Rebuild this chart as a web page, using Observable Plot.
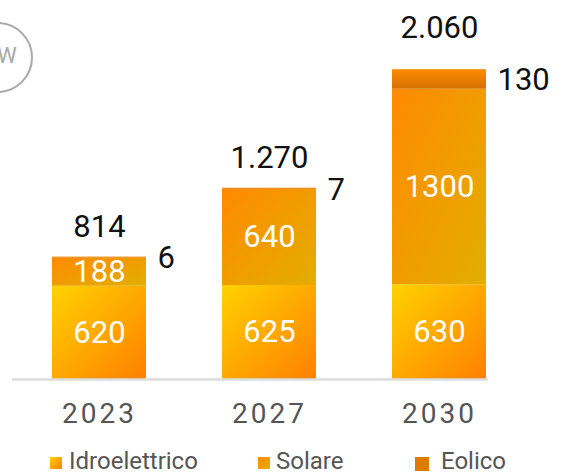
<!DOCTYPE html>
<html>
<head>
<meta charset="utf-8">
<script src="https://cdn.jsdelivr.net/npm/d3@7"></script>
<script src="https://cdn.jsdelivr.net/npm/@observablehq/plot@0.6"></script>
<style>
  html, body { margin: 0; padding: 0; background: #fff; }
  body { position: relative; width: 562px; height: 475px; overflow: hidden; font-family: Roboto, sans-serif; }
  .yr text { letter-spacing: 3px; }
  #badge { position: absolute; left: -38px; top: 22px; width: 67px; height: 63px; padding-bottom: 4px; border: 2px solid #a9a9a9; border-radius: 50%;
           color: #a9a9a9; font-size: 22px; display: flex; align-items: center; justify-content: center; line-height: 1; box-sizing: content-box; }
  .leg { position: absolute; color: #555; font-size: 24px; line-height: 20px; white-space: nowrap; }
  .sw { position: absolute; }
</style>
</head>
<body>
<div id="badge">MW</div>
<div id="chart"></div>
<script>
// ---- data ----
const years = ["2023", "2027", "2030"];
const series = ["Idroelettrico", "Solare", "Eolico"];
const idroelettrico = [620, 625, 630];
const solare = [188, 640, 1300];
const eolico = [6, 7, 130];
const totals = [814, 1270, 2060];

// ---- build table ----
const valuesBySeries = [idroelettrico, solare, eolico];
const rows = [];
years.forEach((year, i) => {
  series.forEach((s, j) => rows.push({year, series: s, value: valuesBySeries[j][i]}));
});
const totalRows = years.map((year, i) => ({year, total: totals[i]}));
const fmt = d3.formatLocale({decimal: ",", thousands: ".", grouping: [3], currency: ["€", ""]}).format(",d");

// ---- gradients ----
function defs() {
  const g = document.createElementNS("http://www.w3.org/2000/svg", "defs");
  g.innerHTML = `
    <linearGradient id="gIdro" x1="0" y1="0" x2="1" y2="1">
      <stop offset="0" stop-color="#FFD200"/><stop offset="1" stop-color="#FF8000"/>
    </linearGradient>
    <linearGradient id="gSol" x1="0" y1="0" x2="1" y2="1">
      <stop offset="0" stop-color="#FF8A00"/><stop offset="1" stop-color="#E2AE00"/>
    </linearGradient>
    <linearGradient id="gEol" x1="0" y1="0" x2="0" y2="1">
      <stop offset="0" stop-color="#FF8C00"/><stop offset="1" stop-color="#D47000"/>
    </linearGradient>`;
  return g;
}

const plot = Plot.plot({
  width: 562,
  height: 445,
  marginLeft: 12,
  marginRight: 74,
  marginTop: 3,
  marginBottom: 66,
  style: {fontFamily: "Roboto, sans-serif", color: "#555", background: "white", overflow: "visible"},
  x: {domain: years, paddingInner: 0.4487, paddingOuter: 0.1202, align: 0.951, label: null},
  y: {domain: [0, 2500], axis: null},
  color: {domain: series, range: ["url(#gIdro)", "url(#gSol)", "url(#gEol)"]},
  marks: [
    defs,
    Plot.barY(rows, {x: "year", y: "value", fill: "series"}),
    Plot.ruleY([0], {stroke: "#dddddd", strokeWidth: 2.5}),
    Plot.axisX({tickSize: 0, tickPadding: 24, fontSize: 28, fill: "#555", className: "yr", label: null}),
    // segment labels (white)
    Plot.text(rows, Plot.stackY({x: "year", y: "value",
      text: d => d.series === "Eolico" ? null : String(d.value),
      fill: "white", fontSize: 31, lineAnchor: "middle"})),
    // eolico labels (black, to the right)
    Plot.text(rows, Plot.stackY({x: "year", y: "value",
      text: d => d.series === "Eolico" ? String(d.value) : null,
      fill: "#111", fontSize: 31, textAnchor: "start", dx: 58, dy: 1, lineAnchor: "middle"})),
    // totals
    Plot.text(totalRows, {x: "year", y: "total", text: d => fmt(d.total), filter: (d, i) => i < 2,
      fill: "#111", fontSize: 31, lineAnchor: "bottom", dy: -20}),
    Plot.text(totalRows, {x: "year", y: "total", text: d => fmt(d.total), filter: (d, i) => i >= 2,
      fill: "#111", fontSize: 31, lineAnchor: "bottom", dy: -32})
  ]
});
document.getElementById("chart").appendChild(plot);

// ---- legend ----
const legendLeft = [50, 258, 415];
const swatchSize = [12, 12, 14];
const textGap = [19, 18, 26];
const swatchFill = [
  "linear-gradient(135deg, #FFD200, #FF8000)",
  "linear-gradient(135deg, #FF8A00, #E2AE00)",
  "#E07B00"
];
series.forEach((s, i) => {
  const sw = document.createElement("div");
  sw.className = "sw";
  sw.style.left = legendLeft[i] + "px";
  sw.style.top = "457px";
  sw.style.width = swatchSize[i] + "px";
  sw.style.height = swatchSize[i] + "px";
  sw.style.background = swatchFill[i];
  document.body.appendChild(sw);
  const t = document.createElement("div");
  t.className = "leg";
  t.style.left = (legendLeft[i] + textGap[i]) + "px";
  t.style.top = "451px";
  t.textContent = s;
  document.body.appendChild(t);
});
</script>
</body>
</html>
